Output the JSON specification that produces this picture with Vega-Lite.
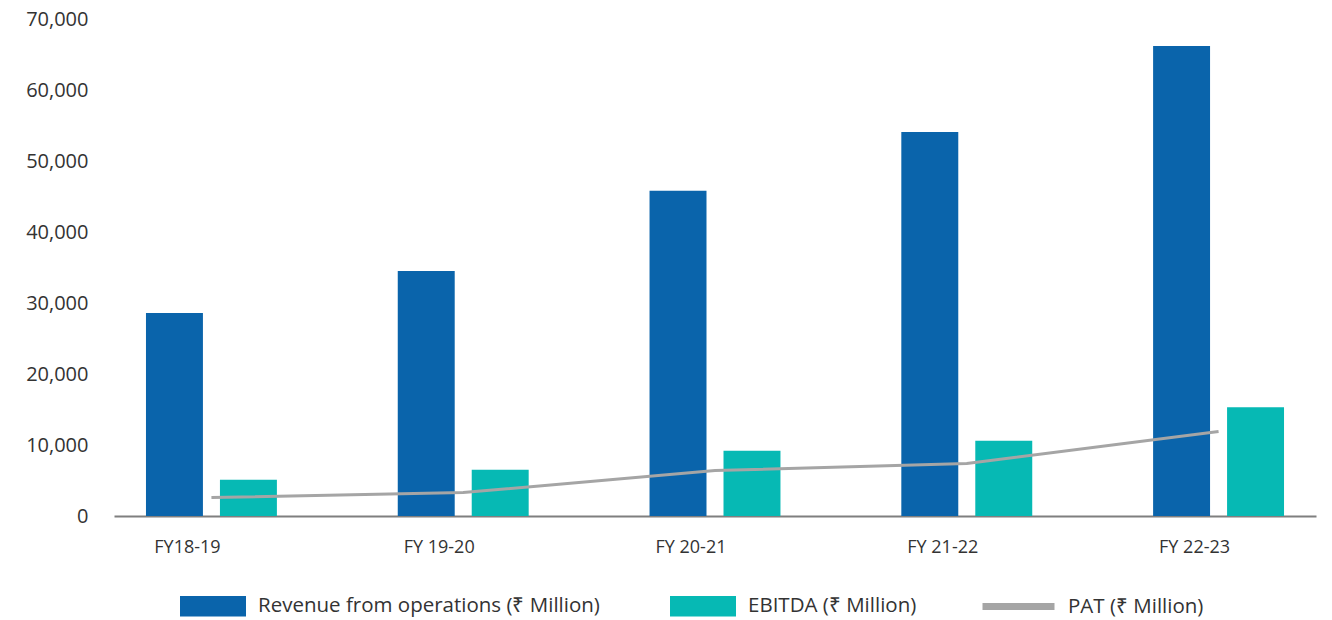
{
  "$schema": "https://vega.github.io/schema/vega-lite/v6.json",
  "width": 1202,
  "height": 497,
  "autosize": {"type": "none"},
  "padding": {"left": 114, "top": 19, "right": 16, "bottom": 104},
  "background": "white",
  "config": {"view": {"stroke": null}, "font": "Open Sans"},
  "data": {
    "values": [
      {"year": "FY18-19", "series": "Revenue from operations (₹ Million)", "value": 28600},
      {"year": "FY 19-20", "series": "Revenue from operations (₹ Million)", "value": 34500},
      {"year": "FY 20-21", "series": "Revenue from operations (₹ Million)", "value": 45800},
      {"year": "FY 21-22", "series": "Revenue from operations (₹ Million)", "value": 54100},
      {"year": "FY 22-23", "series": "Revenue from operations (₹ Million)", "value": 66200},
      {"year": "FY18-19", "series": "EBITDA (₹ Million)", "value": 5100},
      {"year": "FY 19-20", "series": "EBITDA (₹ Million)", "value": 6500},
      {"year": "FY 20-21", "series": "EBITDA (₹ Million)", "value": 9200},
      {"year": "FY 21-22", "series": "EBITDA (₹ Million)", "value": 10600},
      {"year": "FY 22-23", "series": "EBITDA (₹ Million)", "value": 15300},
      {"year": "FY18-19", "series": "PAT (₹ Million)", "value": 2600},
      {"year": "FY 19-20", "series": "PAT (₹ Million)", "value": 3300},
      {"year": "FY 20-21", "series": "PAT (₹ Million)", "value": 6400},
      {"year": "FY 21-22", "series": "PAT (₹ Million)", "value": 7400},
      {"year": "FY 22-23", "series": "PAT (₹ Million)", "value": 11900}
    ]
  },
  "encoding": {
    "x": {
      "field": "year",
      "type": "nominal",
      "sort": ["FY18-19", "FY 19-20", "FY 20-21", "FY 21-22", "FY 22-23"],
      "scale": {"paddingInner": 0.48, "paddingOuter": 0.127},
      "axis": {
        "title": null,
        "labelAngle": 0,
        "ticks": false,
        "domainColor": "#7F7F7F",
        "domainWidth": 2,
        "labelFontSize": 18,
        "labelColor": "#333333",
        "labelPadding": 22,
        "labelOffset": -24
      }
    }
  },
  "layer": [
    {
      "transform": [{"filter": "datum.series !== 'PAT (₹ Million)'"}],
      "mark": {"type": "bar"},
      "encoding": {
        "y": {
          "field": "value",
          "type": "quantitative",
          "scale": {"domain": [0, 70000]},
          "axis": {
            "title": null,
            "domain": false,
            "ticks": false,
            "grid": false,
            "values": [0, 10000, 20000, 30000, 40000, 50000, 60000, 70000],
            "format": ",.0f",
            "labelFontSize": 20,
            "labelColor": "#333333",
            "labelPadding": 26
          }
        },
        "xOffset": {
          "field": "series",
          "sort": ["Revenue from operations (₹ Million)", "EBITDA (₹ Million)"],
          "scale": {"paddingInner": 0.23, "paddingOuter": 0}
        },
        "color": {
          "field": "series",
          "type": "nominal",
          "sort": ["Revenue from operations (₹ Million)", "EBITDA (₹ Million)"],
          "scale": {
            "domain": ["Revenue from operations (₹ Million)", "EBITDA (₹ Million)"],
            "range": ["#0A64AB", "#06B9B4"]
          },
          "legend": {
            "title": null,
            "orient": "none",
            "direction": "horizontal",
            "legendX": 66,
            "legendY": 554,
            "padding": 0,
            "symbolType": "M-1,-0.3125L1,-0.3125L1,0.3125L-1,0.3125Z",
            "symbolSize": 4356,
            "symbolStrokeWidth": 0,
            "symbolOpacity": 1,
            "labelFontSize": 20.5,
            "labelColor": "#333333",
            "labelOffset": 12,
            "labelLimit": 500,
            "columnPadding": 70
          }
        }
      }
    },
    {
      "transform": [{"filter": "datum.series === 'PAT (₹ Million)'"}],
      "mark": {"type": "line", "strokeWidth": 3},
      "encoding": {
        "y": {"field": "value", "type": "quantitative"},
        "stroke": {
          "field": "series",
          "type": "nominal",
          "scale": {"domain": ["PAT (₹ Million)"], "range": ["#A5A5A5"]},
          "legend": {
            "title": null,
            "orient": "none",
            "direction": "horizontal",
            "legendX": 865,
            "legendY": 548,
            "padding": 0,
            "symbolType": "stroke",
            "symbolSize": 5184,
            "symbolStrokeWidth": 7,
            "labelFontSize": 20.5,
            "labelColor": "#333333",
            "labelOffset": 10,
            "labelLimit": 500
          }
        }
      }
    }
  ]
}
